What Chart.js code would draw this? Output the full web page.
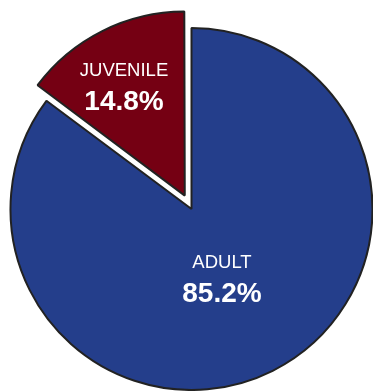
<!DOCTYPE html>
<html>
<head>
<meta charset="utf-8">
<style>
html,body{margin:0;padding:0;background:#fff;}
#wrap{width:373px;height:391px;position:relative;}
</style>
<script src="https://cdn.jsdelivr.net/npm/chart.js@4"></script>
</head>
<body>
<div id="wrap"><canvas id="c" width="373" height="391"></canvas></div>
<script>
const categories = ["ADULT", "JUVENILE"];
const values = [85.2, 14.8];
const valueLabels = ["85.2%", "14.8%"];
const colors = ["#243E8B", "#750013"];
// Chart.js v4 draws an arc's offset at 1/4 of the option value
const offsets = [0, 60];

const labelPlugin = {
  id: 'sliceLabels',
  afterDatasetsDraw(chart) {
    const ctx = chart.ctx;
    const meta = chart.getDatasetMeta(0);
    const radiusFactor = [0.41, 0.70];
    const angleShift = [2.4, -1.8];
    meta.data.forEach((arc, i) => {
      const p = arc.getProps(['x','y','startAngle','endAngle','outerRadius']);
      const mid = (p.startAngle + p.endAngle) / 2 + angleShift[i] * Math.PI / 180;
      const r = p.outerRadius * radiusFactor[i] + offsets[i] / 4;
      const cx = p.x + Math.cos(mid) * r;
      const cy = p.y + Math.sin(mid) * r;
      ctx.save();
      ctx.fillStyle = '#ffffff';
      ctx.textAlign = 'center';
      ctx.textBaseline = 'middle';
      ctx.font = '18.5px "Liberation Sans", Arial, sans-serif';
      ctx.fillText(categories[i], cx, cy - 13.5);
      ctx.font = 'bold 28px "Liberation Sans", Arial, sans-serif';
      ctx.fillText(valueLabels[i], cx, cy + 18);
      ctx.restore();
    });
  }
};

new Chart(document.getElementById('c'), {
  type: 'pie',
  data: {
    labels: categories,
    datasets: [{
      data: values,
      backgroundColor: colors,
      borderColor: '#222222',
      borderWidth: 2,
      offset: offsets
    }]
  },
  options: {
    responsive: false,
    animation: false,
    radius: 181,
    layout: { padding: { left: 10, right: 0, top: 27, bottom: 0 } },
    plugins: {
      legend: { display: false },
      tooltip: { enabled: false }
    }
  },
  plugins: [labelPlugin]
});
</script>
</body>
</html>
